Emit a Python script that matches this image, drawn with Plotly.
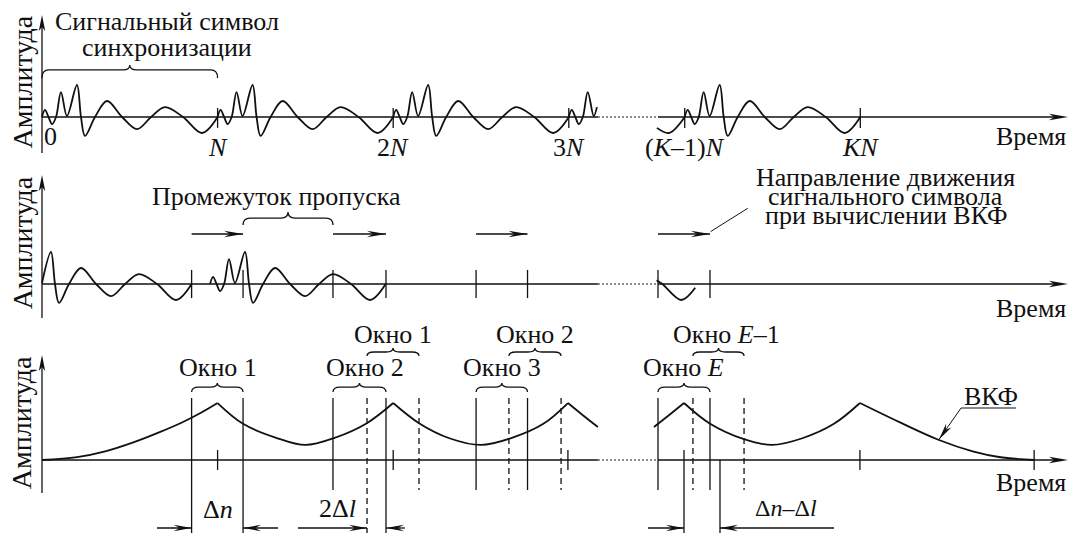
import math
import plotly.graph_objects as go

# ---------------- data (time in symbol lengths N, amplitude normalised) ----------------
# reference (synchronisation) symbol: extrema and zero crossings
sym_t = [0, 0.017, 0.037, 0.057, 0.080, 0.108, 0.142, 0.199, 0.222, 0.245, 0.302,
         0.370, 0.456, 0.541, 0.621, 0.700, 0.803, 0.911, 1.0]
sym_a = [0, 0.22, 0, -0.22, 0, 0.78, 0.03, 1.0, 0, -0.59, 0,
         0.50, 0, -0.38, 0, 0.31, 0, -0.50, 0]

# pieces of the symbol shown: (symbol start, shown from t, amp there, shown to t, amp there)
top_pieces = [
    (0.0, 0.0, 0.0, 1.0, 0.0),
    (1.0, 0.0, 0.0, 1.0, 0.0),
    (2.0, 0.0, 0.0, 1.0, 0.0),
    (3.0, 0.0, 0.0, 0.16, 0.31),
    (2.66, 0.842, -0.34, 1.0, 0.0),
    (3.66, 0.0, 0.0, 1.0, 0.0),
]
top_ticks = [1.0, 2.0, 3.0, 3.66, 4.66]
top_tick_text = ["<i>N</i>", "2<i>N</i>", "3<i>N</i>", "(<i>K</i>–1)<i>N</i>", "<i>KN</i>"]

mid_pieces = [
    (-0.148, 0.148, 0.03, 1.0, 0.0),
    (0.957, 0.0, 0.0, 1.0, 0.0),
    (2.73, 0.77, 0.12, 0.99, -0.12),
]

# correlation windows
win_left = [0.852, 1.657, 2.472, 3.508]
win_right = [1.145, 1.959, 2.765, 3.804]
win_text = ["Окно 1", "Окно 2", "Окно 3", "Окно <i>E</i>"]
win_text_x = [1.0, 1.84, 2.62, 3.656]
shift_left = [1.851, 2.659, 3.707]
shift_right = [2.147, 2.956, 3.998]
shift_text = ["Окно 1", "Окно 2", "Окно <i>E</i>–1"]
shift_text_x = [2.0, 2.81, 3.90]

# cross-correlation function (ВКФ), segments between peaks
ccf_segments = [
    ([0.0, 0.2, 0.36, 0.52, 0.67, 0.80, 0.90, 1.0], [0, 0.09, 0.27, 0.55, 0.87, 1.18, 1.46, 1.78]),
    ([1.0, 1.145, 1.33, 1.5, 1.67, 1.85, 2.0], [1.78, 1.13, 0.70, 0.47, 0.70, 1.15, 1.78]),
    ([2.0, 2.147, 2.32, 2.5, 2.68, 2.855, 2.995], [1.78, 1.15, 0.68, 0.47, 0.70, 1.13, 1.78]),
    ([2.995, 3.08, 3.166], [1.78, 1.40, 1.03]),
    ([3.485, 3.57, 3.656], [1.03, 1.40, 1.78]),
    ([3.656, 3.80, 3.998, 4.157, 4.33, 4.51, 4.658], [1.78, 1.15, 0.65, 0.47, 0.68, 1.13, 1.78]),
    ([4.658, 4.88, 5.108, 5.30, 5.45, 5.65], [1.78, 1.19, 0.625, 0.27, 0.094, 0.0]),
]
ccf_ticks = [1.0, 2.0, 2.995, 4.658, 5.65]

# dimension arrows (tail, tip) and their labels
dim_arrows = [(0.655, 0.852), (1.344, 1.145), (1.458, 1.851), (2.067, 1.959),
              (3.451, 3.656), (4.51, 3.861)]
dim_text = ["Δ<i>n</i>", "2Δ<i>l</i>", "Δ<i>n</i>–Δ<i>l</i>"]
dim_text_x = [1.0, 1.68, 4.237]

break_from, break_to = 3.166, 3.508
axis_end = 5.843

# ---------------- layout constants ----------------
FONT = "Liberation Serif"
FS = 26
INK = "#111111"
W_PX, H_PX = 1076, 533
X0_PX = 42
PX_PER_N = 175.6
PX_PER_A = 32.0
PANELS = [(0, 165, 117), (165, 326, 284), (326, 533, 460)]  # top, bottom, baseline (px)

fig = go.Figure()
shapes, annots = [], []


def refs(p):
    return ("x", "y") if p == 0 else (f"x{p+1}", f"y{p+1}")


def line(p, xs, ys, width=1.3, dash=None, spline=False):
    xr, yr = refs(p)
    fig.add_trace(go.Scatter(
        x=xs, y=ys, mode="lines", xaxis=xr, yaxis=yr, hoverinfo="skip", showlegend=False,
        line=dict(color=INK, width=width, dash=dash, shape="spline" if spline else "linear",
                  smoothing=1.0)))


def arrowhead(p, xt, yt, dx, dy, L=17, W=3.3, notch=5):
    xr, yr = refs(p)
    ux, uy = dx * PX_PER_N, dy * PX_PER_A
    n = math.hypot(ux, uy)
    ux, uy = ux / n, uy / n
    qx, qy = -uy, ux
    pts = [(0, 0), (-ux * L + qx * W, -uy * L + qy * W), (-ux * (L - notch), -uy * (L - notch)),
           (-ux * L - qx * W, -uy * L - qy * W)]
    pts = [(xt + a / PX_PER_N, yt + b / PX_PER_A) for a, b in pts]
    path = "M " + " L ".join(f"{x:.5f},{y:.5f}" for x, y in pts) + " Z"
    shapes.append(dict(type="path", path=path, xref=xr, yref=yr, fillcolor=INK,
                       line=dict(width=0), layer="above"))


def arrow(p, x0, y0, x1, y1, width=1.4, **kw):
    line(p, [x0, x1], [y0, y1], width=width)
    arrowhead(p, x1, y1, x1 - x0, y1 - y0, **kw)


def brace(p, x0, x1, y_end, y_top, y_tip):
    xr, yr = refs(p)
    xm = (x0 + x1) / 2
    r = 7 / PX_PER_N
    path = (f"M {x0},{y_end} Q {x0},{y_top} {x0 + r},{y_top} L {xm - r},{y_top} "
            f"Q {xm},{y_top} {xm},{y_tip} Q {xm},{y_top} {xm + r},{y_top} "
            f"L {x1 - r},{y_top} Q {x1},{y_top} {x1},{y_end}")
    shapes.append(dict(type="path", path=path, xref=xr, yref=yr, line=dict(color=INK, width=1.3)))


def text(p, x, y, s, size=FS, xanchor="center", angle=0):
    xr, yr = refs(p)
    annots.append(dict(x=x, y=y, xref=xr, yref=yr, text=s, showarrow=False, xanchor=xanchor,
                       yanchor="middle", textangle=angle,
                       font=dict(family=FONT, size=size, color=INK)))


def piece_xy(start, t0, a0, t1, a1):
    xs, ys = [start + t0], [a0]
    for t, a in zip(sym_t, sym_a):
        if t0 < t < t1:
            xs.append(start + t)
            ys.append(a)
    xs.append(start + t1)
    ys.append(a1)
    return xs, ys


# ---------------- axes for every panel ----------------
ax_tops = [3.19, 3.41, 3.28]
ax_bots = [-1.125, -1.06, -1.03]
time_y = [-0.6, -0.75, -0.69]
amp_y = [1.09, 1.28, 1.16]
for p in range(3):
    line(p, [0, 0], [ax_bots[p], ax_tops[p] - 10 / PX_PER_A])
    arrowhead(p, 0, ax_tops[p], 0, 1, L=16, W=3.2, notch=4)
    line(p, [0, break_from, None, break_to, axis_end - 12 / PX_PER_N], [0, 0, None, 0, 0])
    line(p, [break_from, break_to], [0, 0], width=1.1, dash="2px,2px")
    arrowhead(p, axis_end, 0, 1, 0, L=19, W=3.2, notch=5)
    text(p, axis_end, time_y[p], "Время", xanchor="right")
    text(p, -0.112, amp_y[p], "Амплитуда", size=28, angle=-90)

# ---------------- top panel ----------------
for pc in top_pieces:
    xs, ys = piece_xy(*pc)
    line(0, xs, ys, width=1.8, spline=True)
tx, ty = [], []
for t in top_ticks:
    tx += [t, t, None]
    ty += [0.28, -0.34, None]
line(0, tx, ty)
text(0, 0.046, -0.6, "0")
for t, s in zip(top_ticks, top_tick_text):
    text(0, t, -0.95, s)
brace(0, 0.0, 1.0, 1.22, 1.47, 1.625)
text(0, 0.712, 2.99, "Сигнальный символ")
text(0, 0.712, 2.17, "синхронизации")

# ---------------- middle panel ----------------
for pc in mid_pieces:
    xs, ys = piece_xy(*pc)
    line(1, xs, ys, width=1.8, spline=True)
tx, ty = [], []
for t in win_left + win_right:
    tx += [t, t, None]
    ty += [0.44, -0.44, None]
line(1, tx, ty)
for a, b in zip(win_left, win_right):
    arrow(1, a, 1.5625, b, 1.5625, width=1.5, L=19, W=3.2, notch=6)
brace(1, win_right[0], win_left[1], 1.84, 2.06, 2.25)
text(1, 1.333, 2.72, "Промежуток пропуска")
line(1, [win_right[3] + 0.004, 4.019], [1.64, 2.365], width=1.0)
text(1, 4.806, 3.34, "Направление движения")
text(1, 4.806, 2.74, "сигнального символа")
text(1, 4.806, 2.14, "при вычислении ВКФ")

# ---------------- bottom panel ----------------
for xs, ys in ccf_segments:
    line(2, xs, ys, width=1.8, spline=True)
tx, ty = [], []
for t in ccf_ticks:
    tx += [t, t, None]
    ty += [0.31, -0.31, None]
line(2, tx, ty)

y_win_top, y_win_short, y_win_long = 1.9375, -0.9375, -2.29
solid_x, solid_y = [], []
for i, (a, b) in enumerate(zip(win_left, win_right)):
    for t in (a, b):
        long_ = (i == 0) or (i == 1 and t == b)
        solid_x += [t, t, None]
        solid_y += [y_win_top, y_win_long if long_ else y_win_short, None]
line(2, solid_x, solid_y)
dash_x, dash_y = [], []
for i, (a, b) in enumerate(zip(shift_left, shift_right)):
    for t in (a, b):
        long_ = (i == 0 and t == a)
        dash_x += [t, t, None]
        dash_y += [y_win_top, y_win_long if long_ else y_win_short, None]
line(2, dash_x, dash_y, dash="6px,4px")
# reference lines of the last peak for Δn–Δl
line(2, [3.656, 3.656, None, 3.861, 3.861], [0.31, y_win_long, None, 0.0, y_win_long])

for a, b, s, sx in zip(win_left, win_right, win_text, win_text_x):
    brace(2, a, b, 2.125, 2.28, 2.406)
    text(2, sx, 2.9, s)
for a, b, s, sx in zip(shift_left, shift_right, shift_text, shift_text_x):
    brace(2, a, b, 3.25, 3.375, 3.5)
    text(2, sx, 3.92, s)

for tail, tip in dim_arrows:
    arrow(2, tail, -2.125, tip, -2.125, width=1.3, L=18, W=3.2, notch=6)
text(2, dim_text_x[0], -1.56, dim_text[0])
text(2, dim_text_x[1], -1.5, dim_text[1])
text(2, dim_text_x[2], -1.5, dim_text[2], size=24)

text(2, 5.404, 1.97, "ВКФ")
line(2, [5.234, 5.547], [1.625, 1.625], width=1.0)
arrow(2, 5.234, 1.625, 5.108, 0.64, width=1.0, L=17, W=3.2, notch=5)

# ---------------- layout ----------------
layout = dict(width=W_PX, height=H_PX, margin=dict(l=0, r=0, t=0, b=0), autosize=False,
              paper_bgcolor="white", plot_bgcolor="white", showlegend=False,
              shapes=shapes, annotations=annots)
xrange = [-X0_PX / PX_PER_N, (W_PX - X0_PX) / PX_PER_N]
for p, (ptop, pbot, pbase) in enumerate(PANELS):
    sfx = "" if p == 0 else str(p + 1)
    layout[f"xaxis{sfx}"] = dict(range=xrange, domain=[0, 1], visible=False, fixedrange=True,
                                 anchor=f"y{sfx}")
    layout[f"yaxis{sfx}"] = dict(range=[(pbase - pbot) / PX_PER_A, (pbase - ptop) / PX_PER_A],
                                 domain=[1 - pbot / H_PX, 1 - ptop / H_PX], visible=False,
                                 fixedrange=True, anchor=f"x{sfx}")
fig.update_layout(**layout)
fig.write_html("out.html")
